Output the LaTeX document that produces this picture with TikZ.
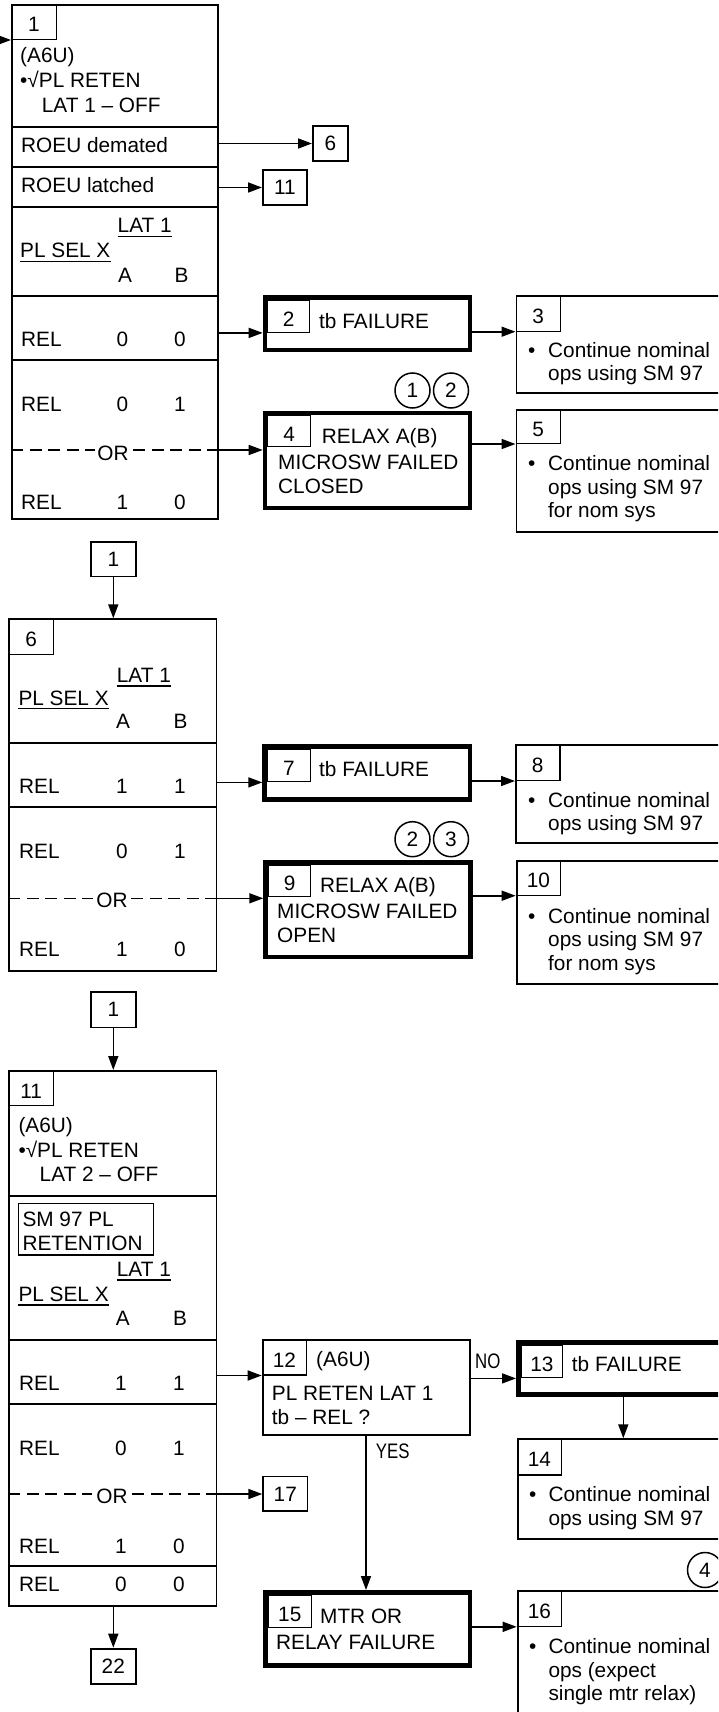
\documentclass[tikz,border=0pt]{standalone}
\usepackage{fontspec}
\setmainfont{Liberation Sans}
\newfontfamily\condfont[FakeStretch=0.8]{Liberation Sans}
\usetikzlibrary{arrows.meta}
\tikzset{
  every node/.style={font=\fontsize{20.8}{24.5}\selectfont},
  box/.style={draw, line width=1.8pt, inner sep=0pt, anchor=north west},
  fbox/.style={draw, line width=4.5pt, inner sep=0pt, anchor=north west},
  refbox/.style={draw, line width=1.8pt, inner sep=0pt, anchor=north west},
  tabbox/.style={draw, line width=1.2pt, inner sep=0pt, anchor=north west, text height=20pt},
  txt/.style={inner sep=0pt, anchor=base west},
  ctxt/.style={inner sep=0pt, anchor=base},
  yn/.style={inner sep=0pt, anchor=base west, font=\condfont\fontsize{21}{24}\selectfont},
  conn/.style={line width=1.6pt, -{Triangle[length=14pt,width=10pt]}},
  sepline/.style={line width=1.8pt},
  orline/.style={line width=1.6pt, dash pattern=on 12pt off 6.5pt},
  circ/.style={draw, circle, line width=1.5pt, minimum size=35pt, inner sep=0pt},
  ul/.style={line width=1.5pt},
}
\begin{document}
\begin{tikzpicture}[x=1pt,y=-1pt]
\useasboundingbox (0,0) rectangle (718,1712);
\clip (0,0) rectangle (718,1712);

%%%%%%%%%%%%%%%% SECTION 1 %%%%%%%%%%%%%%%%
\node[box, minimum width=206.2pt, minimum height=514.2pt] (b1) at (11,4) {};
\node[tabbox, minimum width=44.8pt, minimum height=34.8pt] (t1) at (11,4) {1};
\coordinate (in1) at (-4,40);
\draw[conn] (in1) -- (b1.west |- t1.south);
\node[txt] at (20,63) {(A6U)};
\node[txt] at (20,88) {•√PL RETEN};
\node[txt] at (41.7,112.7) {LAT 1 – OFF};
\draw[sepline] (11,127) -- (219,127);
\node[txt] at (21,153) {ROEU demated};
\draw[sepline] (11,167) -- (219,167);
\node[txt] at (21,193) {ROEU latched};
\draw[sepline] (11,207) -- (219,207);
\node[txt] (la1) at (117.5,233) {LAT 1};
\draw[ul] ([yshift=-3.5pt]la1.base west) -- ([yshift=-3.5pt]la1.base east);
\node[txt] (ps1) at (20,258) {PL SEL X};
\draw[ul] ([yshift=-3.5pt]ps1.base west) -- ([yshift=-3.5pt]ps1.base east);
\node[ctxt] at (125,282) {A};
\node[ctxt] at (181.5,282) {B};
\draw[sepline] (11,296) -- (219,296);
\node[txt] at (21,346.7) {REL};
\node[ctxt] at (122.5,346.7) {0};
\node[ctxt] at (180,346.7) {0};
\draw[sepline] (11,360) -- (219,360);
\node[txt] at (21,411.7) {REL};
\node[ctxt] at (122.5,411.7) {0};
\node[ctxt] at (180,411.7) {1};
\draw[orline] (11,450) -- (95,450);
\node[ctxt] (or1) at (113,460) {OR};
\draw[orline] (133,450) -- (219,450);
\node[txt] at (21,509.3) {REL};
\node[ctxt] at (122.5,509.3) {1};
\node[ctxt] at (180,509.3) {0};

\node[refbox, minimum width=35.2pt, minimum height=35.2pt] (r6) at (312,125) {6};
\node[refbox, minimum width=44.2pt, minimum height=35.2pt] (r11) at (262,169) {11};
\draw[conn] (b1.east |- r6.west) -- (r6.west);
\draw[conn] (b1.east |- r11.west) -- (r11.west);

% box 2
\node[fbox, minimum width=204.8pt, minimum height=52.5pt] (b2) at (262.7,295) {};
\node[tabbox, minimum width=41.7pt, minimum height=32.2pt] (t2) at (267.2,299.5) {2};
\node[txt] at (319,328) {tb FAILURE};
\draw[conn] (b1.east |- t2.south) -- (b2.west |- t2.south);

% box 3
\node[box, minimum width=215pt, minimum height=97.3pt] (b3) at (515.5,295) {};
\node[tabbox, minimum width=44.3pt, minimum height=35.5pt] (t3) at (515.5,295) {3};
\node[txt] at (528,357.3) {•};
\node[txt] at (548,357.3) {Continue nominal};
\node[txt] at (548,380.7) {ops using SM 97};
\draw[conn] (b2.east |- t3.south) -- (b3.west |- t3.south);

% circles
\node[circ] (k1) at (412.5,390.5) {1};
\node[circ] (k2) at (451,390.5) {2};

% box 4
\node[fbox, minimum width=204.8pt, minimum height=94.8pt] (b4) at (262.7,410.7) {};
\node[tabbox, minimum width=42.7pt, minimum height=30.4pt] (t4) at (267.2,415.2) {4};
\node[txt] at (321.7,443.3) {RELAX A(B)};
\node[txt] at (278,469.3) {MICROSW FAILED};
\node[txt] at (278,493.3) {CLOSED};
\coordinate (o1) at (219,450);
\draw[conn] (b1.east |- o1) -- (b4.west |- o1);

% box 5
\node[box, minimum width=215pt, minimum height=122.2pt] (b5) at (515.5,409) {};
\node[tabbox, minimum width=44.3pt, minimum height=33.8pt] (t5) at (515.5,409) {5};
\node[txt] at (528,470.7) {•};
\node[txt] at (548,470.7) {Continue nominal};
\node[txt] at (548,494) {ops using SM 97};
\node[txt] at (548,517.5) {for nom sys};
\draw[conn] (b4.east |- t5.south) -- (b5.west |- t5.south);

%%%%%%%%%%%%%%%% SECTION 2 %%%%%%%%%%%%%%%%
\node[refbox, minimum width=44.8pt, minimum height=34.8pt] (ra) at (90,540.7) {1};
\node[box, minimum width=207.2pt, minimum height=351.9pt] (b6) at (8.3,618.3) {};
\draw[conn] (ra.south) -- (ra.south |- b6.north);
\node[tabbox, minimum width=44.5pt, minimum height=35.5pt] (t6) at (8.3,618.3) {6};
\node[txt] (la2) at (116.7,682.3) {LAT 1};
\draw[ul] ([yshift=-3.5pt]la2.base west) -- ([yshift=-3.5pt]la2.base east);
\node[txt] (ps2) at (18.3,705) {PL SEL X};
\draw[ul] ([yshift=-3.5pt]ps2.base west) -- ([yshift=-3.5pt]ps2.base east);
\node[ctxt] at (123,728.3) {A};
\node[ctxt] at (180.5,728.3) {B};
\draw[sepline] (8.3,742.7) -- (217.3,742.7);
\node[txt] at (19,793) {REL};
\node[ctxt] at (122,793) {1};
\node[ctxt] at (180,793) {1};
\draw[sepline] (8.3,806.7) -- (217.3,806.7);
\node[txt] at (19,858) {REL};
\node[ctxt] at (122,858) {0};
\node[ctxt] at (180,858) {1};
\draw[orline] (8.3,898.3) -- (93,898.3);
\node[ctxt] (or2) at (112,907.8) {OR};
\draw[orline] (131,898.3) -- (217.3,898.3);
\node[txt] at (19,956.7) {REL};
\node[ctxt] at (122,956.7) {1};
\node[ctxt] at (180,956.7) {0};

% box 7
\node[fbox, minimum width=205.5pt, minimum height=53.2pt] (b7) at (262.3,744) {};
\node[tabbox, minimum width=43pt, minimum height=32.7pt] (t7) at (266.8,748.5) {7};
\node[txt] at (319,776.7) {tb FAILURE};
\draw[conn] (b6.east |- t7.south) -- (b7.west |- t7.south);

% box 8
\node[box, minimum width=215pt, minimum height=98.2pt] (b8) at (515,744) {};
\node[tabbox, minimum width=44.3pt, minimum height=35.8pt] (t8) at (515,744) {8};
\node[txt] at (528,807.3) {•};
\node[txt] at (548,807.3) {Continue nominal};
\node[txt] at (548,830.5) {ops using SM 97};
\draw[conn] (b7.east |- t8.south) -- (b8.west |- t8.south);

% circles
\node[circ] (k3) at (412.5,839.2) {2};
\node[circ] (k4) at (451,839.2) {3};

% box 9
\node[fbox, minimum width=204.9pt, minimum height=94.8pt] (b9) at (263.3,860) {};
\node[tabbox, minimum width=42.4pt, minimum height=31.1pt] (t9) at (267.8,864.5) {9};
\node[txt] at (320,892.7) {RELAX A(B)};
\node[txt] at (277,918.3) {MICROSW FAILED};
\node[txt] at (277,942.7) {OPEN};
\coordinate (o2) at (217.3,898.3);
\draw[conn] (b6.east |- o2) -- (b9.west |- o2);

% box 10
\node[box, minimum width=215pt, minimum height=123.2pt] (b10) at (515.7,860) {};
\node[tabbox, minimum width=44.3pt, minimum height=34.5pt] (t10) at (515.7,860) {10};
\node[txt] at (528,923.3) {•};
\node[txt] at (548,923.3) {Continue nominal};
\node[txt] at (548,946.7) {ops using SM 97};
\node[txt] at (548,970) {for nom sys};
\draw[conn] (b9.east |- t10.south) -- (b10.west |- t10.south);

%%%%%%%%%%%%%%%% SECTION 3 %%%%%%%%%%%%%%%%
\node[refbox, minimum width=44.8pt, minimum height=35.5pt] (rb) at (90,991) {1};
\node[box, minimum width=207.2pt, minimum height=534.9pt] (b11) at (8.3,1070) {};
\draw[conn] (rb.south) -- (rb.south |- b11.north);
\node[tabbox, minimum width=44.5pt, minimum height=34.8pt] (t11) at (8.3,1070) {11};
\node[txt] at (18.3,1132.7) {(A6U)};
\node[txt] at (18.3,1157.3) {•√PL RETEN};
\node[txt] at (39.5,1181.7) {LAT 2 – OFF};
\draw[sepline] (8.3,1196) -- (217.3,1196);
\node[box, line width=1.6pt, minimum width=135pt, minimum height=51.7pt] (sm) at (17.7,1202.7) {};
\node[txt] at (22.3,1226.7) {SM 97 PL};
\node[txt] at (22.3,1250) {RETENTION};
\node[txt] (la3) at (116.7,1276.7) {LAT 1};
\draw[ul] ([yshift=-3.5pt]la3.base west) -- ([yshift=-3.5pt]la3.base east);
\node[txt] (ps3) at (18.3,1301.7) {PL SEL X};
\draw[ul] ([yshift=-3.5pt]ps3.base west) -- ([yshift=-3.5pt]ps3.base east);
\node[ctxt] at (122.7,1325) {A};
\node[ctxt] at (180,1325) {B};
\draw[sepline] (8.3,1340) -- (217.3,1340);
\node[txt] at (19,1390) {REL};
\node[ctxt] at (121,1390) {1};
\node[ctxt] at (179,1390) {1};
\draw[sepline] (8.3,1404) -- (217.3,1404);
\node[txt] at (19,1455) {REL};
\node[ctxt] at (121,1455) {0};
\node[ctxt] at (179,1455) {1};
\draw[orline] (8.3,1494) -- (92,1494);
\node[ctxt] (or3) at (112,1503.3) {OR};
\draw[orline] (132,1494) -- (217.3,1494);
\node[txt] at (19,1553.3) {REL};
\node[ctxt] at (121,1553.3) {1};
\node[ctxt] at (179,1553.3) {0};
\draw[sepline] (8.3,1566) -- (217.3,1566);
\node[txt] at (19,1591.7) {REL};
\node[ctxt] at (121,1591.7) {0};
\node[ctxt] at (179,1591.7) {0};

\node[refbox, minimum width=44.8pt, minimum height=35.5pt] (r22) at (90,1647.7) {22};
\draw[conn] (b11.south -| r22.north) -- (r22.north);

% box 12
\node[box, minimum width=207.2pt, minimum height=94.9pt] (b12) at (261.7,1339.3) {};
\node[tabbox, minimum width=44.3pt, minimum height=35pt] (t12) at (261.7,1339.3) {12};
\node[txt] at (316,1366.7) {(A6U)};
\node[txt] at (271.7,1400) {PL RETEN LAT 1};
\node[txt] at (271.7,1424) {tb – REL ?};
\draw[conn] (b11.east |- t12.south) -- (b12.west |- t12.south);

% box 17
\node[refbox, minimum width=44.2pt, minimum height=34.9pt] (r17) at (262.3,1475.5) {17};
\coordinate (o3) at (217.3,1494);
\draw[conn] (b11.east |- o3) -- (r17.west |- o3);

% box 13
\node[fbox, minimum width=240pt, minimum height=52.2pt] (b13) at (516,1340) {};
\node[tabbox, minimum width=41.7pt, minimum height=32.7pt] (t13) at (520.5,1344.5) {13};
\node[txt] at (571.7,1371.7) {tb FAILURE};
\draw[conn] (b12.east |- t13.south) -- (b13.west |- t13.south);
\node[yn] at (475,1368.3) {NO};

% box 14
\node[box, minimum width=215pt, minimum height=99.9pt] (b14) at (516.7,1438.3) {};
\node[tabbox, minimum width=44.3pt, minimum height=36pt] (t14) at (516.7,1438.3) {14};
\node[txt] at (529,1501.5) {•};
\node[txt] at (548.3,1501.5) {Continue nominal};
\node[txt] at (548.3,1525) {ops using SM 97};
\coordinate (a13) at (623.3,1396.7);
\draw[conn] (a13 |- b13.south) -- (a13 |- b14.north);

% box 15
\node[fbox, minimum width=204.5pt, minimum height=73.2pt] (b15) at (263.3,1590) {};
\node[tabbox, minimum width=42.8pt, minimum height=32.7pt] (t15) at (267.8,1594.5) {15};
\node[txt] at (320,1623.3) {MTR OR};
\node[txt] at (276,1649.3) {RELAY FAILURE};
\coordinate (a12) at (366,1436);
\draw[conn] (a12 |- b12.south) -- (a12 |- b15.north);
\node[yn] at (375.7,1458) {YES};

% box 16
\node[box, minimum width=215pt, minimum height=160pt] (b16) at (516.7,1590) {};
\node[tabbox, minimum width=44.3pt, minimum height=35.6pt] (t16) at (516.7,1590) {16};
\node[txt] at (529,1653.3) {•};
\node[txt] at (548.3,1653.3) {Continue nominal};
\node[txt] at (548.3,1677.3) {ops (expect};
\node[txt] at (548.3,1700.5) {single mtr relax)};
\draw[conn] (b15.east |- t16.south) -- (b16.west |- t16.south);

\node[circ] (k5) at (705,1570) {4};
\end{tikzpicture}
\end{document}
